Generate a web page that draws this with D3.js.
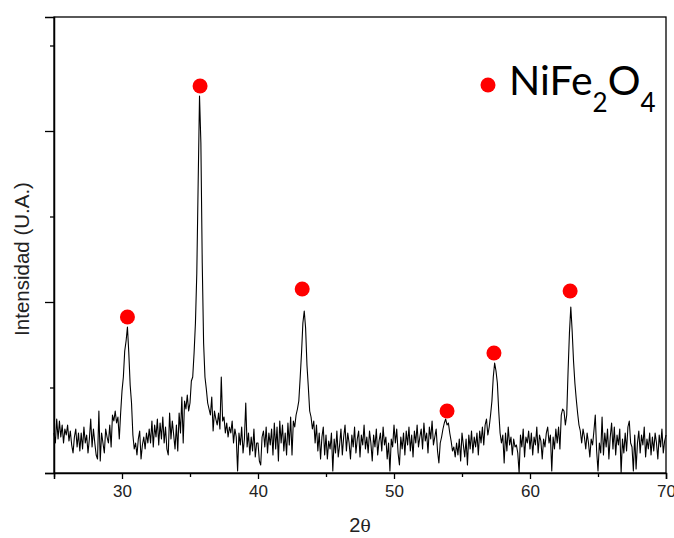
<!DOCTYPE html>
<html><head><meta charset="utf-8">
<script src="https://cdn.jsdelivr.net/npm/d3@7"></script>
<style>body{margin:0;background:#fff;} svg{display:block;}</style>
</head><body><svg id="chart" width="674" height="538"></svg>
<script>
// 2θ grid: start and step of the diffractogram
const thetaStart = 25, thetaStep = 0.1;
// Intensity (arbitrary units), one value per 0.1° from 25.0 to 70.0
const intensity = [
  40, 30, 54, 34, 52, 36, 48, 30, 44, 38,
  48, 32, 42, 28, 20, 36, 44, 26, 40, 22,
  40, 24, 46, 30, 38, 20, 34, 54, 26, 44,
  30, 18, 14, 62, 12, 40, 30, 20, 44, 36,
  30, 48, 26, 58, 52, 62, 50, 56, 34, 60,
  82, 96, 122, 132, 146, 120, 88, 70, 38, 24,
  30, 18, 34, 42, 14, 28, 36, 24, 40, 30,
  44, 30, 52, 26, 48, 36, 54, 28, 50, 34,
  56, 30, 46, 24, 18, 60, 34, 52, 38, 24,
  48, 22, 60, 40, 76, 30, 72, 64, 78, 62,
  70, 92, 96, 120, 150, 200, 290, 377, 330, 210,
  130, 96, 84, 70, 64, 58, 76, 42, 62, 54,
  48, 60, 44, 96, 52, 56, 40, 50, 36, 46,
  40, 52, 30, 44, 36, 2, 40, 28, 46, 20,
  34, 70, 26, 40, 18, 36, 22, 44, 16, 30,
  30, 12, 8, 36, 42, 26, 46, 20, 40, 28,
  44, 18, 50, 24, 46, 12, 52, 30, 48, 22,
  40, 18, 50, 28, 56, 18, 52, 46, 58, 64,
  72, 95, 120, 150, 162, 145, 108, 86, 62, 56,
  44, 52, 30, 48, 22, 40, 14, 36, 46, 18,
  38, 14, 32, 24, 40, 2, 34, 20, 42, 16,
  28, 44, 18, 36, 48, 22, 40, 30, 14, 38,
  26, 46, 20, 34, 42, 16, 38, 28, 48, 24,
  36, 20, 42, 30, 12, 38, 26, 44, 18, 32,
  40, 22, 46, 28, 36, 14, 30, 2, 34, 26,
  48, 30, 44, 20, 8, 36, 24, 40, 18, 42,
  28, 46, 22, 38, 16, 42, 30, 48, 26, 36,
  44, 24, 50, 32, 40, 20, 46, 34, 52, 28,
  36, 44, 22, 10, 30, 36, 44, 50, 54, 48,
  50, 40, 32, 22, 26, 16, 30, 18, 34, 12,
  40, 28, 16, 34, 8, 38, 24, 42, 20, 36,
  26, 40, 18, 42, 30, 46, 28, 48, 54, 38,
  46, 58, 72, 96, 110, 102, 90, 62, 40, 30,
  38, 10, 40, 22, 46, 28, 36, 18, 34, 26,
  28, 20, 0, 38, 26, 44, 16, 36, 30, 42,
  24, 40, 18, 36, 28, 46, 20, 38, 32, 14,
  34, 26, 40, 46, 30, 38, 2, 36, 24, 44,
  30, 46, 24, 58, 64, 62, 48, 58, 102, 140,
  166, 142, 112, 90, 74, 60, 48, 42, 30, 44,
  36, 24, 40, 30, 16, 34, 28, 42, 58, 22,
  2, 30, 20, 56, 18, 40, 26, 44, 14, 36,
  50, 24, 46, 18, 38, 28, 44, 0, 34, 20,
  40, 22, 46, 52, 30, 26, 2, 38, 4, 30,
  42, 20, 38, 28, 46, 16, 34, 24, 40, 18,
  36, 22, 40, 30, 14, 38, 26, 44, 20, 32,
  38
];
// NiFe2O4 peak markers
const peakTheta = [30.4, 35.74, 43.25, 53.9, 57.35, 62.95];
const peakIntensity = [156, 387, 184, 62, 120, 182];
// axis ticks
const xMajorTicks = [30, 40, 50, 60, 70];
const xMinorTicks = [25, 35, 45, 55, 65];
const yMajorTicks = [0, 171, 342];
const yMinorTicks = [85.5, 256.5, 427.5];
const xDomain = [25, 70];
const yDomain = [0, 456];
const legendLabel = ["NiFe", "2", "O", "4"];

const W = 674, H = 538;
const margin = {left: 54, right: 8, top: 17, bottom: 65};
const svg = d3.select("#chart");
const x = d3.scaleLinear().domain(xDomain).range([margin.left, W - margin.right]);
const y = d3.scaleLinear().domain(yDomain).range([H - margin.bottom, margin.top]);

const twoTheta = intensity.map((_, i) => thetaStart + i * thetaStep);
const data = twoTheta.map((t, i) => ({t, v: intensity[i]}));

// frame
svg.append("rect")
  .attr("x", x(xDomain[0])).attr("y", y(yDomain[1]))
  .attr("width", x(xDomain[1]) - x(xDomain[0]))
  .attr("height", y(yDomain[0]) - y(yDomain[1]))
  .attr("fill", "none").attr("stroke", "#000").attr("stroke-width", 1.3);

// x axis
const xAxisG = svg.append("g").attr("transform", `translate(0,${y(0)})`);
xAxisG.call(d3.axisBottom(x).tickValues(xMajorTicks).tickSize(6).tickPadding(6).tickFormat(d3.format("d")))
  .call(g => g.select(".domain").attr("stroke-width", 1.5))
  .call(g => g.selectAll(".tick line").attr("stroke-width", 1.3))
  .call(g => g.selectAll(".tick text").attr("font-family", "Liberation Sans, Arial, sans-serif").attr("font-size", 17).attr("fill", "#222"));
svg.append("g").attr("transform", `translate(0,${y(0)})`)
  .call(d3.axisBottom(x).tickValues(xMinorTicks).tickSize(4).tickFormat(""))
  .call(g => g.select(".domain").remove())
  .call(g => g.selectAll(".tick line").attr("stroke-width", 1.3));

// y axis
svg.append("g").attr("transform", `translate(${x(xDomain[0])},0)`)
  .call(d3.axisLeft(y).tickValues(yMajorTicks).tickSize(9).tickFormat(""))
  .call(g => g.select(".domain").attr("stroke-width", 1.5))
  .call(g => g.selectAll(".tick line").attr("stroke-width", 1.3));
svg.append("g").attr("transform", `translate(${x(xDomain[0])},0)`)
  .call(d3.axisLeft(y).tickValues(yMinorTicks).tickSize(4).tickFormat(""))
  .call(g => g.select(".domain").remove())
  .call(g => g.selectAll(".tick line").attr("stroke-width", 1.3));

// pattern line
svg.append("path").datum(data)
  .attr("fill", "none").attr("stroke", "#000").attr("stroke-width", 1.1)
  .attr("stroke-linejoin", "round")
  .attr("d", d3.line().x(d => x(d.t)).y(d => y(d.v)));

// markers
svg.append("g").selectAll("circle").data(peakTheta).join("circle")
  .attr("cx", d => x(d)).attr("cy", (d, i) => y(peakIntensity[i]))
  .attr("r", 7.5).attr("fill", "#ff0000");

// axis titles
const xt = svg.append("text").attr("x", 360).attr("y", 532).attr("text-anchor", "middle")
  .attr("font-family", "Liberation Sans, Arial, sans-serif").attr("font-size", 20).attr("fill", "#222");
xt.append("tspan").text("2");
xt.append("tspan").attr("font-family", "DejaVu Serif, serif").attr("font-size", 17).text("θ");
svg.append("text").attr("transform", "translate(29,259) rotate(-90)").attr("text-anchor", "middle")
  .attr("font-family", "Liberation Sans, Arial, sans-serif").attr("font-size", 20.5).attr("fill", "#222")
  .text("Intensidad (U.A.)");

// legend
svg.append("circle").attr("cx", 488).attr("cy", 85).attr("r", 7.5).attr("fill", "#ff0000");
const lt = svg.append("text").attr("x", 509).attr("y", 95)
  .attr("font-family", "Lato, sans-serif").attr("font-size", 41).attr("fill", "#000");
lt.append("tspan").text(legendLabel[0]);
lt.append("tspan").attr("dy", 17).attr("font-size", 26).text(legendLabel[1]);
lt.append("tspan").attr("dy", -17).text(legendLabel[2]);
lt.append("tspan").attr("dy", 17).attr("font-size", 26).text(legendLabel[3]);
</script></body></html>
